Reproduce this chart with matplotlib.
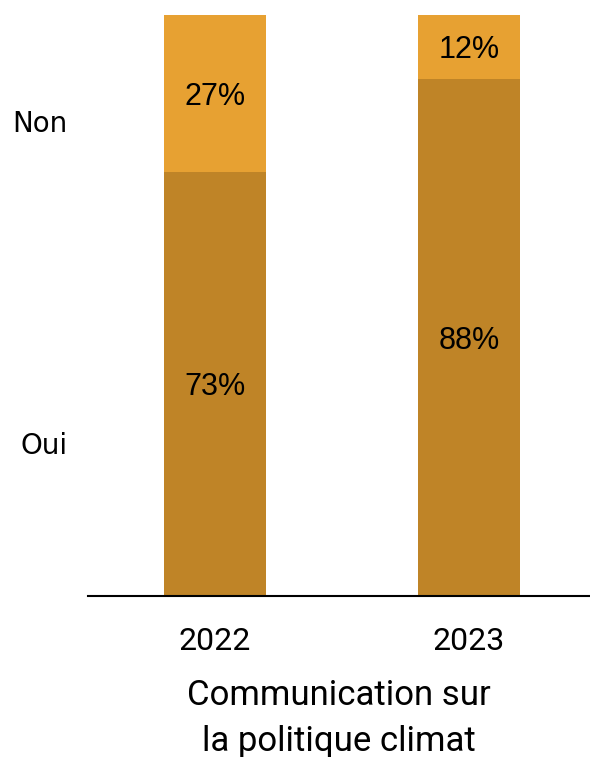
import matplotlib
matplotlib.use('Agg')
import matplotlib.pyplot as plt

# data
years = ['2022', '2023']
oui = [73, 89]
non = [27, 11]
oui_labels = ['73%', '88%']
non_labels = ['27%', '12%']
series_names = ['Oui', 'Non']
colors = ['#BF8427', '#E7A132']
title = 'Communication sur\nla politique climat'

fig = plt.figure(figsize=(5.9, 7.57), dpi=100)
ax = fig.add_axes([0.149, 0.2127, 0.851, 0.7675])

x = range(len(years))
ax.bar(x, oui, width=0.398, color=colors[0])
ax.bar(x, non, width=0.398, bottom=oui, color=colors[1])

for i in x:
    ax.text(i, oui[i] / 2, oui_labels[i], ha='center', va='center_baseline',
            fontsize=22, family='Liberation Sans')
    ax.text(i, oui[i] + non[i] / 2, non_labels[i], ha='center', va='center_baseline',
            fontsize=22, family='Liberation Sans')

# series labels on the left
ax.text(-0.58, 81.2, series_names[1], ha='right', va='center', fontsize=20,
        family='DejaVu Sans', clip_on=False)
ax.text(-0.58, 25.8, series_names[0], ha='right', va='center', fontsize=20,
        family='DejaVu Sans', clip_on=False)

ax.set_xlim(-0.5, 1.476)
ax.set_ylim(0, 100)
ax.set_xticks(list(x))
ax.set_xticklabels(years, fontsize=23, family='Roboto')
ax.tick_params(axis='x', length=0, pad=22)
ax.set_yticks([])
for s in ['top', 'right', 'left']:
    ax.spines[s].set_visible(False)
ax.spines['bottom'].set_linewidth(1.5)

ax.set_xlabel(title, fontsize=25, family='Roboto', labelpad=17, linespacing=1.5)

fig.savefig('out.png', dpi=100)
